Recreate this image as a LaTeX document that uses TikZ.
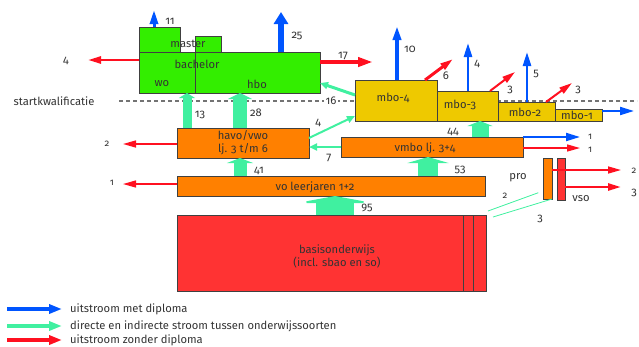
\documentclass[tikz,border=0pt]{standalone}
\usepackage{fontspec}
\setmainfont{Fira Sans}[Numbers=OldStyle]
\usetikzlibrary{arrows.meta}

\definecolor{groen}{RGB}{51,238,0}
\definecolor{geel}{RGB}{238,201,0}
\definecolor{oranje}{RGB}{255,128,0}
\definecolor{rood}{RGB}{255,51,51}
\definecolor{blauw}{RGB}{0,85,255}
\definecolor{mint}{RGB}{64,240,160}
\definecolor{pijlrood}{RGB}{255,16,32}

\begin{document}
\begin{tikzpicture}[x=1pt, y=-1pt, font=\fontsize{11.2}{13}\selectfont,
                    box/.style={draw=black!75, line width=0.8pt, anchor=north west, inner sep=0pt, outer sep=0pt},
                    txt/.style={inner sep=0pt, text=black!80},
                    klein/.style={txt, font=\fontsize{9.5}{11}\selectfont},
                    met/.style={blauw, line width=#1, -{Triangle[width=8pt,length=14pt]}}, met/.default=2.5pt,
                    zonder/.style={pijlrood, line width=#1, -{Triangle[width=7pt,length=13pt]}}, zonder/.default=2pt,
                    stroom/.style={mint, line width=#1, -{Triangle[width=7pt,length=8pt]}}, stroom/.default=2pt,
                    breed/.style n args={3}{mint, line width=#1, -{Triangle[width=#2,length=#3]}}]
    \useasboundingbox (0,0) rectangle (639,346);

    % startkwalificatie
    \coordinate (sk1) at (119,101);
    \coordinate (sk2) at (637,101);
    \draw[black!55, line width=1.2pt, dash pattern=on 4pt off 3pt] (sk1) -- (sk2);
    \node[txt] (sk) at (54,101) {startkwalificatie};
    \node[txt, fill=white, inner sep=1.5pt] (n16) at (331,101) {16};

    % hoger onderwijs
    \node[box, fill=groen, minimum width=41pt, minimum height=25pt] (ma1) at (139,27) {};
    \node[box, fill=groen, minimum width=26pt, minimum height=16pt] (ma2) at (195,36) {};
    \node[box, fill=groen, minimum width=56pt, minimum height=41pt] (wo) at (139,52) {};
    \node[box, fill=groen, minimum width=125pt, minimum height=41pt] (hbo) at (195,52) {};

    % mbo
    \node[box, fill=geel, minimum width=82pt, minimum height=41pt] (mbo4) at (355,80) {};
    \node[box, fill=geel, minimum width=61pt, minimum height=30pt] (mbo3) at (437,91) {};
    \node[box, fill=geel, minimum width=57pt, minimum height=19pt] (mbo2) at (498,102) {};
    \node[box, fill=geel, minimum width=47pt, minimum height=12pt] (mbo1) at (555,109) {};

    % vo
    \node[box, fill=oranje, minimum width=132pt, minimum height=30pt] (havo) at (177,128) {};
    \node[box, fill=oranje, minimum width=182pt, minimum height=20pt] (vmbo) at (341,137) {};
    \node[box, fill=oranje, minimum width=308pt, minimum height=20pt] (vo) at (177,176) {};
    \node[box, fill=oranje, minimum width=9pt, minimum height=41pt] (pro) at (543,158) {};
    \node[box, fill=rood, minimum width=8pt, minimum height=42pt] (vso) at (557,158) {};

    % basisonderwijs
    \node[box, fill=rood, minimum width=309pt, minimum height=76pt] (basis) at (177,215) {};
    \draw[black!75, line width=0.8pt] (463,0 |- basis.north) -- (463,0 |- basis.south)
                                      (473,0 |- basis.north) -- (473,0 |- basis.south);

    % stromen tussen onderwijssoorten
    \draw[breed={38pt}{76pt}{7pt}] (335,0 |- basis.north) -- (335,0 |- vo.south);
    \draw[breed={13pt}{26pt}{5pt}] (240,0 |- vo.north) -- (240,0 |- havo.south);
    \draw[breed={20pt}{41pt}{6pt}] (428,0 |- vo.north) -- (428,0 |- vmbo.south);
    \draw[breed={17pt}{25pt}{5pt}] (480,0 |- vmbo.north) -- (480,0 |- mbo3.south);
    \draw[breed={9pt}{16pt}{5pt}] (187,0 |- havo.north) -- (187,0 |- wo.south);
    \draw[breed={14pt}{24pt}{6pt}] (240,0 |- havo.north) -- (240,0 |- hbo.south);
    \draw[stroom=3pt] ([yshift=5.5pt]mbo4.west) -- ([yshift=-10.5pt]hbo.east);
    \draw[stroom] ([yshift=5pt]havo.east) -- ([yshift=-15.5pt]mbo4.west);
    \draw[stroom] (vmbo.west) -- (vmbo.west -| havo.east);
    \coordinate (p2) at (488,211);
    \coordinate (p3) at (493,217);
    \draw[mint, line width=0.8pt, shorten >=5pt] (p2) -- ([yshift=8pt]pro.south west);
    \draw[mint, line width=0.8pt] (p3) -- (pro.south east);

    % uitstroom met diploma
    \coordinate (m11) at (154,10);
    \coordinate (m25) at (281,12);
    \coordinate (m10) at (397,26);
    \coordinate (m4) at (468,43);
    \coordinate (m5) at (527,52);
    \coordinate (m1a) at (634,111);
    \coordinate (m1b) at (580,137);
    \draw[met=3pt] (m11 |- ma1.north) -- (m11);
    \draw[met=6pt, -{Triangle[width=14pt,length=12pt]}] (m25 |- hbo.north) -- (m25);
    \draw[met=4pt] (m10 |- mbo4.north) -- (m10);
    \draw[met] (m4 |- mbo3.north) -- (m4);
    \draw[met] (m5 |- mbo2.north) -- (m5);
    \draw[met=2pt] (m1a -| mbo1.east) -- (m1a);
    \draw[met=2pt] (m1b -| vmbo.east) -- (m1b);

    % uitstroom zonder diploma
    \coordinate (z4) at (88,60);
    \coordinate (z17) at (373,62);
    \coordinate (z6) at (453,59);
    \coordinate (z3a) at (515,72);
    \coordinate (z3b) at (572,83);
    \coordinate (z1a) at (580,148);
    \coordinate (z2a) at (123,144);
    \coordinate (z1b) at (123,184);
    \coordinate (z2b) at (621,170);
    \coordinate (z3c) at (621,187);
    \draw[zonder=2.5pt] (z4 -| wo.west) -- (z4);
    \draw[zonder=4pt, -{Triangle[width=9pt,length=15pt]}] (z17 -| hbo.east) -- (z17);
    \draw[zonder=3pt] (425,0 |- mbo4.north) -- (z6);
    \draw[zonder] (490,0 |- mbo3.north) -- (z3a);
    \draw[zonder] (546,0 |- mbo2.north) -- (z3b);
    \draw[zonder=1.3pt] (z1a -| vmbo.east) -- (z1a);
    \draw[zonder=1.5pt] (z2a -| havo.west) -- (z2a);
    \draw[zonder=1.3pt] (z1b -| vo.west) -- (z1b);
    \draw[zonder=1.5pt] (z2b -| pro.east) -- (z2b);
    \draw[zonder=2.5pt] (z3c -| vso.east) -- (z3c);

    % teksten
    \node[txt] (tmaster) at (188,44) {master};
    \node[txt] (tbachelor) at (197,64) {bachelor};
    \node[txt] (two) at (162,84) {wo};
    \node[txt] (thbo) at (257,84) {hbo};
    \node[txt] (tmbo4) at (393,98) {mbo-4};
    \node[txt] (tmbo3) at (460,105) {mbo-3};
    \node[txt] (tmbo2) at (525,112) {mbo-2};
    \node[txt] (tmbo1) at (577,115) {mbo-1};
    \node[txt, align=center] (thavo) at (243,143) {havo/vwo\\lj. 3 t/m 6};
    \node[txt] (tvmbo) at (425,148) {vmbo lj. 3+4};
    \node[txt] (tvo) at (315,187) {vo leerjaren 1+2};
    \node[txt, align=center] (tbasis) at (337,256) {basisonderwijs\\(incl. sbao en so)};
    \node[txt] (tpro) at (518,178) {pro};
    \node[txt] (tvso) at (581,199) {vso};

    % aantallen
    \node[txt] (a11) at (170,21) {11};
    \node[txt] (a25) at (297,36) {25};
    \node[txt] (a4) at (66,61) {4};
    \node[txt] (a17) at (343,56) {17};
    \node[txt] (a13) at (200,115) {13};
    \node[txt] (a28) at (256,113) {28};
    \node[txt] (a4b) at (318,123) {4};
    \node[txt] (a7) at (329,158) {7};
    \node[txt] (a10) at (410,49) {10};
    \node[txt] (a6) at (446,76) {6};
    \node[txt] (a4c) at (477,64) {4};
    \node[txt] (a3a) at (510,90) {3};
    \node[txt] (a5) at (536,74) {5};
    \node[txt] (a3b) at (578,90) {3};
    \node[txt] (a44) at (453,132) {44};
    \node[klein] (a1a) at (590,137) {1};
    \node[klein] (a1b) at (590,150) {1};
    \node[klein] (a2a) at (107,144) {2};
    \node[klein] (a1c) at (112,183) {1};
    \node[txt] (a41) at (259,171) {41};
    \node[txt] (a53) at (460,170) {53};
    \node[txt] (a95) at (367,208) {95};
    \node[klein] (a2b) at (634,171) {2};
    \node[txt] (a3c) at (634,193) {3};
    \node[klein] (a2c) at (505,196) {2};
    \node[txt] (a3d) at (540,219) {3};

    % legenda
    \coordinate (lg1) at (7,309);
    \coordinate (lg2) at (7,326);
    \coordinate (lg3) at (7,340);
    \node[txt, anchor=west] (lt1) at (70,309) {uitstroom met diploma};
    \node[txt, anchor=west] (lt2) at (70,326) {directe en indirecte stroom tussen onderwijssoorten};
    \node[txt, anchor=west] (lt3) at (70,340) {uitstroom zonder diploma};
    \draw[met=4pt, -{Triangle[width=9pt,length=13pt]}, shorten >=8pt] (lg1) -- (lt1.west);
    \draw[stroom=4pt, -{Triangle[width=9pt,length=13pt]}, shorten >=8pt] (lg2) -- (lt2.west);
    \draw[zonder=4pt, -{Triangle[width=9pt,length=13pt]}, shorten >=8pt] (lg3) -- (lt3.west);
\end{tikzpicture}
\end{document}
